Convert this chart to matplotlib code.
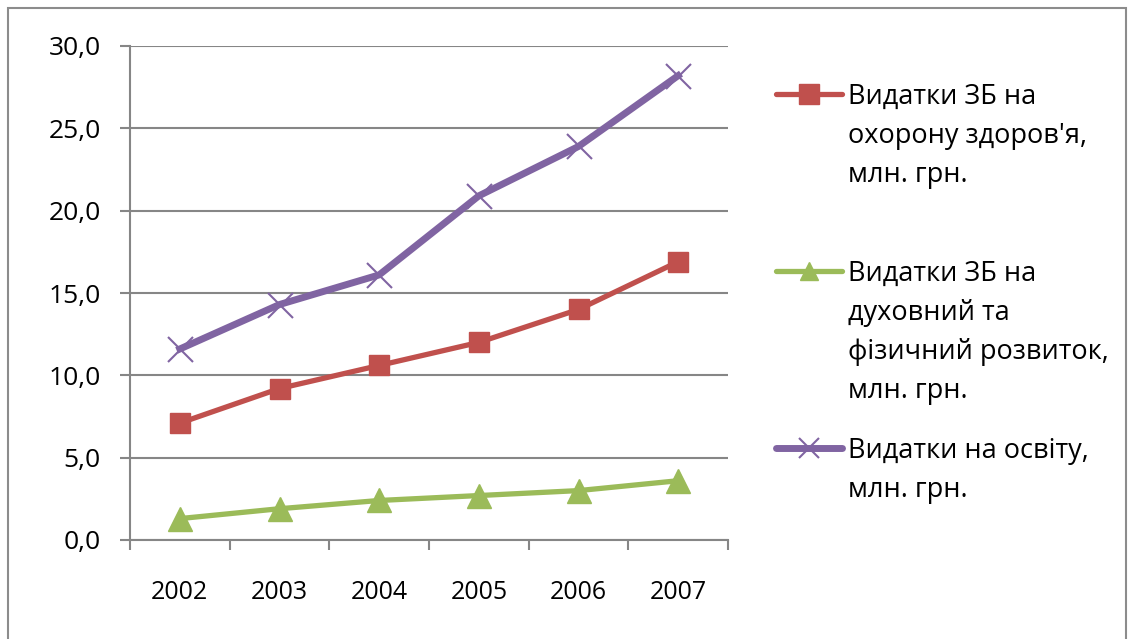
import matplotlib
matplotlib.use("Agg")
import matplotlib.pyplot as plt
from matplotlib.lines import Line2D
from matplotlib.patches import Rectangle

years = ["2002", "2003", "2004", "2005", "2006", "2007"]
health = [7.1, 9.2, 10.6, 12.0, 14.0, 16.9]
spiritual = [1.3, 1.9, 2.4, 2.7, 3.0, 3.6]
education = [11.6, 14.3, 16.1, 20.9, 23.9, 28.2]

labels = [
    ["Видатки ЗБ на", "охорону здоров'я,", "млн. грн."],
    ["Видатки ЗБ на", "духовний та", "фізичний розвиток,", "млн. грн."],
    ["Видатки на освіту,", "млн. грн."],
]
yticks = [0, 5, 10, 15, 20, 25, 30]
ytick_labels = ["0,0", "5,0", "10,0", "15,0", "20,0", "25,0", "30,0"]

RED = "#C0504D"
GREEN = "#9BBB59"
PURPLE = "#8064A2"
GRAY = "#868686"

plt.rcParams['font.family'] = ['Open Sans', 'DejaVu Sans']

W, H = 1134, 639
fig = plt.figure(figsize=(W / 100, H / 100), dpi=100)

def fx(px):
    return px / W

def fy(py):
    return 1 - py / H

# outer frame
fig.patches.append(Rectangle((fx(8), fy(660)), fx(1126) - fx(8), fy(8) - fy(660),
                             transform=fig.transFigure, fill=False,
                             edgecolor="#8C8C8C", linewidth=1.5))

ax = fig.add_axes([fx(130), fy(540), fx(728) - fx(130), fy(46) - fy(540)])
x = list(range(len(years)))

ax.plot(x, education, color=PURPLE, lw=5, marker="x", ms=18, mew=1.5, mec=PURPLE, zorder=3)
ax.plot(x, health, color=RED, lw=3.8, marker="s", ms=15, mfc=RED, mec=RED, zorder=4)
ax.plot(x, spiritual, color=GREEN, lw=3.8, marker="^", ms=17, mfc=GREEN, mec=GREEN, zorder=4)

ax.set_xlim(-0.5, len(years) - 0.5)
ax.set_ylim(0, 30)
ax.set_yticks(yticks)
ax.set_yticklabels(ytick_labels, fontsize=19)
ax.set_xticks([i - 0.5 for i in range(len(years) + 1)])
ax.set_xticklabels([])
ax.set_xticks(x, minor=True)
ax.set_xticklabels(years, minor=True, fontsize=18)
ax.tick_params(axis="x", which="major", length=7, width=1.5, color=GRAY)
ax.tick_params(axis="x", which="minor", length=0, pad=29)
ax.tick_params(axis="y", length=7, width=1.5, color=GRAY, pad=14)
ax.yaxis.grid(True, color=GRAY, lw=1.5)
ax.set_axisbelow(True)
for s in ["top", "right"]:
    ax.spines[s].set_visible(False)
for s in ["left", "bottom"]:
    ax.spines[s].set_color(GRAY)
    ax.spines[s].set_linewidth(1.5)

# legend (manual)
handles = [
    dict(color=RED, lw=3.8, marker="s", ms=15, mfc=RED, mec=RED),
    dict(color=GREEN, lw=3.8, marker="^", ms=13, mfc=GREEN, mec=GREEN),
    dict(color=PURPLE, lw=5, marker="x", ms=15, mew=1.5, mec=PURPLE),
]
marker_y = [94, 271, 448]
baselines = [[104, 143, 182], [281, 320, 359, 398], [458, 497]]
for h, my, lines, bls in zip(handles, marker_y, labels, baselines):
    fig.add_artist(Line2D([fx(776), fx(842)], [fy(my), fy(my)], transform=fig.transFigure,
                          solid_capstyle="round", **{k: v for k, v in h.items() if k not in ("marker", "ms", "mfc", "mec", "mew")}))
    fig.add_artist(Line2D([fx(809)], [fy(my)], transform=fig.transFigure, linestyle="none",
                          **{k: v for k, v in h.items() if k in ("marker", "ms", "mfc", "mec", "mew")}))
    for line, bl in zip(lines, bls):
        fig.text(fx(848), fy(bl), line, fontsize=19.5, va="baseline", ha="left")

fig.savefig("out.png", dpi=100)
